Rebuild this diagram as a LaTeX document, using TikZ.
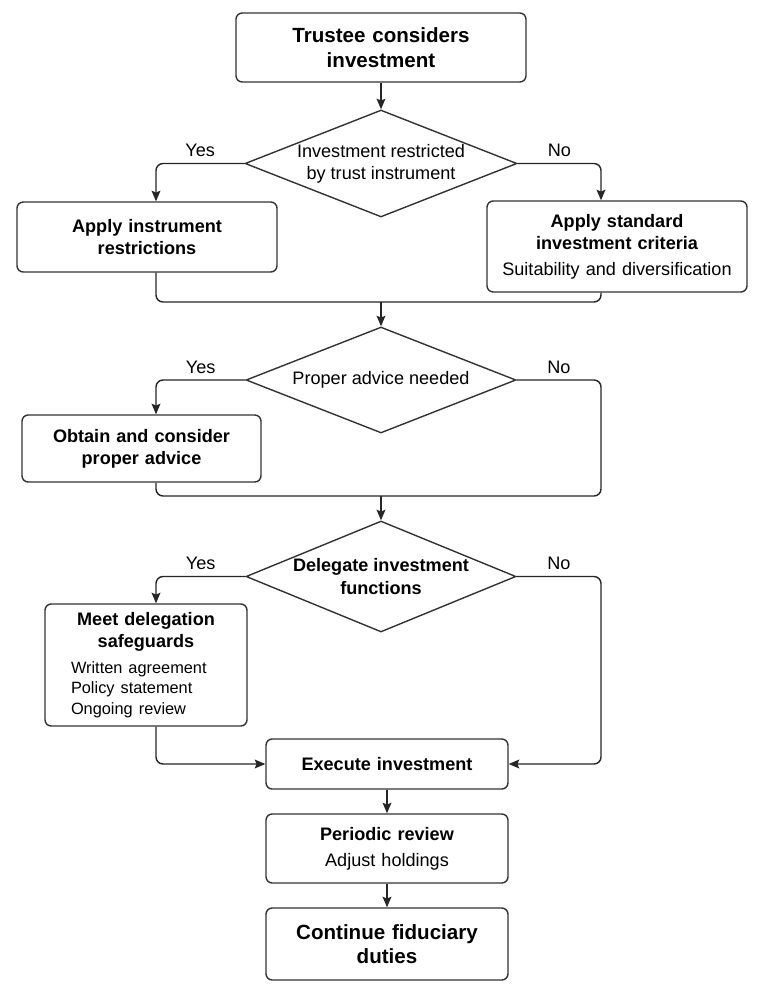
\documentclass[tikz,border=0pt]{standalone}
\usepackage{fontspec}
\setmainfont{Liberation Sans}
\usetikzlibrary{shapes.geometric,arrows.meta}
\newcommand\fsmain{\fontsize{10.3}{12.6}\selectfont}
\newcommand\fslist{\fontsize{9.3}{11.6}\selectfont}
\newcommand\fsbig{\fontsize{11.7}{14}\selectfont}
\tikzset{
  box/.style={draw=black!80, line width=0.8pt, rounded corners=3.5pt, align=center, inner sep=0pt, font=\fsmain},
  decision/.style={draw=black!80, line width=0.8pt, diamond, aspect=2.5, inner sep=0pt, align=center, font=\fsmain},
  conn/.style={draw=black!85, line width=0.8pt, rounded corners=4pt},
  connarr/.style={conn, -{Stealth[length=6pt,width=5pt,inset=1pt]}},
  lbl/.style={font=\fsmain, text=black}
}
\begin{document}
\begin{tikzpicture}[x=0.02cm, y=-0.02cm]
\useasboundingbox (0,0) rectangle (765,997);
% side columns and join points
\coordinate (colL) at (156,0);
\coordinate (colR) at (601,0);
\coordinate (j1) at (381,302);
\coordinate (j2) at (381,496);

\node[box, text width=5.8cm, minimum height=1.38cm, font=\fsbig\bfseries] (start) at (381,47.5) {Trustee considers\\ investment};
\node[decision, minimum width=5.44cm, minimum height=2.14cm] (restr) at (381,163.5) {Investment restricted\\ by trust instrument};
\node[box, text width=5.2cm, minimum height=1.4cm] (instr) at (147,237) {\bfseries Apply instrument\\ restrictions};
\node[box, text width=5.2cm, minimum height=1.82cm] (std) at (617,246.5) {{\bfseries Apply standard\\ investment criteria}\\[2pt] Suitability and diversification};

\node[decision, minimum width=5.4cm, minimum height=2.12cm] (advice) at (381,380) {Proper advice needed};
\node[box, text width=4.78cm, minimum height=1.34cm] (obtain) at (141.5,448.5) {\bfseries Obtain and consider\\ proper advice};

\node[decision, minimum width=5.4cm, minimum height=2.22cm, font=\fsmain\bfseries] (deleg) at (381,576.5) {Delegate investment\\ functions};
\node[box, text width=3.0cm, minimum height=2.44cm, inner xsep=0.52cm, align=left] (safe) at (146,665) {{\centering\bfseries Meet delegation\\ safeguards\par}\vspace{3pt}{\fslist Written agreement\\ Policy statement\\ Ongoing review\par}};

\node[box, text width=4.84cm, minimum height=1cm] (exec) at (387,764) {\bfseries Execute investment};
\node[box, text width=4.84cm, minimum height=1.38cm] (review) at (387,848.5) {{\bfseries Periodic review}\\[2pt] Adjust holdings};
\node[box, text width=4.84cm, minimum height=1.44cm, font=\fsbig\bfseries] (cont) at (387,944) {Continue fiduciary\\ duties};

% connectors
\draw[connarr] (start.south) -- (restr.north);
\draw[connarr] (restr.west) -| node[lbl, pos=0.25, above] {Yes} (colL |- instr.north);
\draw[connarr] (restr.east) -| node[lbl, pos=0.25, above] {No} (colR |- std.north);
\draw[conn] (instr.south -| colL) |- (j1);
\draw[conn] (std.south -| colR) |- (j1);
\draw[connarr] (j1) -- (advice.north);

\draw[connarr] (advice.west) -| node[lbl, pos=0.25, above] {Yes} (colL |- obtain.north);
\draw[conn] (advice.east) -| node[lbl, pos=0.25, above] {No} (colR |- j2) -- (j2);
\draw[conn] (obtain.south -| colL) |- (j2);
\draw[connarr] (j2) -- (deleg.north);

\draw[connarr] (deleg.west) -| node[lbl, pos=0.25, above] {Yes} (colL |- safe.north);
\draw[connarr] (deleg.east) -| node[lbl, pos=0.25, above] {No} (colR |- exec.east) -- (exec.east);
\draw[connarr] (safe.south -| colL) |- (exec.west);
\draw[connarr] (exec) -- (review);
\draw[connarr] (review) -- (cont);
\end{tikzpicture}
\end{document}
